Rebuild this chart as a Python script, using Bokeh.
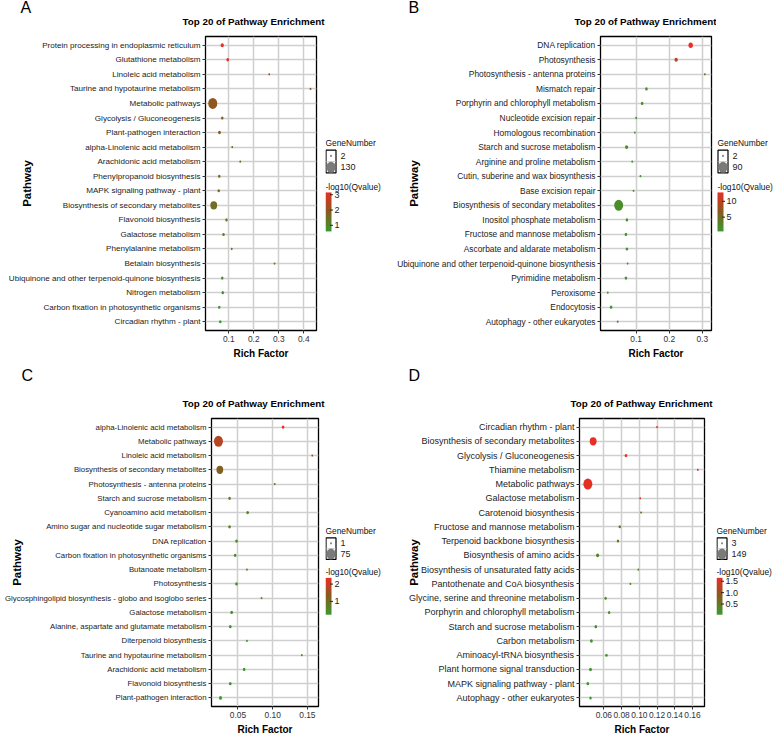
import numpy as np
from bokeh.plotting import figure
from bokeh.models import (Range1d, FactorRange, FixedTicker, ColumnDataSource,
                          LinearColorMapper, Title, NumeralTickFormatter)
from bokeh.layouts import row, column
from bokeh.embed import file_html
from bokeh.resources import INLINE
from bokeh.core.properties import value

FONT = "Liberation Sans"

# ---------------- data ----------------
a_pathways = ["Protein processing in endoplasmic reticulum", "Glutathione metabolism",
              "Linoleic acid metabolism", "Taurine and hypotaurine metabolism", "Metabolic pathways",
              "Glycolysis / Gluconeogenesis", "Plant-pathogen interaction",
              "alpha-Linolenic acid metabolism", "Arachidonic acid metabolism",
              "Phenylpropanoid biosynthesis", "MAPK signaling pathway - plant",
              "Biosynthesis of secondary metabolites", "Flavonoid biosynthesis",
              "Galactose metabolism", "Phenylalanine metabolism", "Betalain biosynthesis",
              "Ubiquinone and other terpenoid-quinone biosynthesis", "Nitrogen metabolism",
              "Carbon fixation in photosynthetic organisms", "Circadian rhythm - plant"]
a_rich = [0.074, 0.096, 0.262, 0.427, 0.036, 0.074, 0.063, 0.114, 0.146, 0.062,
          0.060, 0.040, 0.091, 0.079, 0.112, 0.283, 0.074, 0.076, 0.062, 0.066]
a_genes = [7, 4, 2, 2, 130, 3, 4, 2, 2, 3, 3, 64, 3, 3, 2, 2, 3, 3, 3, 3]
a_qvalue = [3.15, 2.95, 2.3, 2.0, 1.95, 1.9, 1.85, 1.6, 1.5, 1.55,
            1.5, 1.45, 1.25, 1.2, 1.15, 1.0, 0.75, 0.75, 0.65, 0.6]
a_xticks = [0.1, 0.2, 0.3, 0.4]
a_qticks = [1, 2, 3]

b_pathways = ["DNA replication", "Photosynthesis", "Photosynthesis - antenna proteins",
              "Mismatch repair", "Porphyrin and chlorophyll metabolism",
              "Nucleotide excision repair", "Homologous recombination",
              "Starch and sucrose metabolism", "Arginine and proline metabolism",
              "Cutin, suberine and wax biosynthesis", "Base excision repair",
              "Biosynthesis of secondary metabolites", "Inositol phosphate metabolism",
              "Fructose and mannose metabolism", "Ascorbate and aldarate metabolism",
              "Ubiquinone and other terpenoid-quinone biosynthesis", "Pyrimidine metabolism",
              "Peroxisome", "Endocytosis", "Autophagy - other eukaryotes"]
b_rich = [0.265, 0.221, 0.308, 0.131, 0.118, 0.100, 0.096, 0.071, 0.088, 0.113,
          0.092, 0.047, 0.072, 0.069, 0.072, 0.074, 0.069, 0.014, 0.024, 0.044]
b_genes = [13, 6, 2, 3, 3, 2, 2, 5, 2, 2, 2, 90, 3, 3, 3, 2, 3, 2, 3, 2]
b_qvalue = [12.8, 9.1, 5.4, 2.0, 1.8, 1.3, 1.2, 1.5, 1.0, 1.0,
            0.9, 1.7, 0.8, 0.8, 0.8, 0.7, 0.7, 0.5, 0.6, 0.55]
b_xticks = [0.1, 0.2, 0.3]
b_qticks = [5, 10]

c_pathways = ["alpha-Linolenic acid metabolism", "Metabolic pathways", "Linoleic acid metabolism",
              "Biosynthesis of secondary metabolites", "Photosynthesis - antenna proteins",
              "Starch and sucrose metabolism", "Cyanoamino acid metabolism",
              "Amino sugar and nucleotide sugar metabolism", "DNA replication",
              "Carbon fixation in photosynthetic organisms", "Butanoate metabolism",
              "Photosynthesis", "Glycosphingolipid biosynthesis - globo and isoglobo series",
              "Galactose metabolism", "Alanine, aspartate and glutamate metabolism",
              "Diterpenoid biosynthesis", "Taurine and hypotaurine metabolism",
              "Arachidonic acid metabolism", "Flavonoid biosynthesis", "Plant-pathogen interaction"]
c_rich = [0.115, 0.022, 0.157, 0.024, 0.103, 0.038, 0.064, 0.038, 0.048, 0.046,
          0.063, 0.048, 0.084, 0.041, 0.039, 0.063, 0.142, 0.059, 0.039, 0.025]
c_genes = [2, 75, 1, 36, 1, 2, 2, 2, 2, 2, 1, 2, 1, 2, 2, 1, 1, 2, 2, 3]
c_qvalue = [2.36, 1.76, 1.3, 1.19, 0.98, 0.66, 0.62, 0.6, 0.55, 0.55,
            0.5, 0.48, 0.45, 0.42, 0.42, 0.38, 0.35, 0.33, 0.3, 0.23]
c_xticks = [0.05, 0.10, 0.15]
c_qticks = [1, 2]

d_pathways = ["Circadian rhythm - plant", "Biosynthesis of secondary metabolites",
              "Glycolysis / Gluconeogenesis", "Thiamine metabolism", "Metabolic pathways",
              "Galactose metabolism", "Carotenoid biosynthesis", "Fructose and mannose metabolism",
              "Terpenoid backbone biosynthesis", "Biosynthesis of amino acids",
              "Biosynthesis of unsaturated fatty acids", "Pantothenate and CoA biosynthesis",
              "Glycine, serine and threonine metabolism", "Porphyrin and chlorophyll metabolism",
              "Starch and sucrose metabolism", "Carbon metabolism", "Aminoacyl-tRNA biosynthesis",
              "Plant hormone signal transduction", "MAPK signaling pathway - plant",
              "Autophagy - other eukaryotes"]
d_rich = [0.120, 0.048, 0.085, 0.166, 0.042, 0.101, 0.102, 0.078, 0.076, 0.053,
          0.099, 0.090, 0.062, 0.066, 0.051, 0.046, 0.063, 0.045, 0.042, 0.045]
d_genes = [3, 73, 5, 3, 149, 3, 3, 4, 4, 7, 3, 3, 4, 4, 5, 6, 4, 6, 5, 4]
d_qvalue = [1.65, 1.62, 1.6, 1.58, 1.55, 1.5, 0.6, 0.45, 0.42, 0.3,
            0.28, 0.25, 0.22, 0.2, 0.18, 0.15, 0.14, 0.1, 0.07, 0.03]
d_xticks = [0.06, 0.08, 0.10, 0.12, 0.14, 0.16]
d_qticks = [0.5, 1.0, 1.5]

TITLE = "Top 20 of Pathway Enrichment"


# ---------------- helpers ----------------
def make_palette(n=256):
    stops = [(59, 154, 47), (138, 90, 30), (238, 44, 36)]
    out = []
    for i in range(n):
        t = i / (n - 1)
        if t <= 0.5:
            a, b, u = stops[0], stops[1], t / 0.5
        else:
            a, b, u = stops[1], stops[2], (t - 0.5) / 0.5
        c = tuple(int(round(a[k] + (b[k] - a[k]) * u)) for k in range(3))
        out.append("#%02x%02x%02x" % c)
    return out


PAL = make_palette()
DMIN, DMAX = 2.3, 11.0
ASPECT = 0.82
YPAD = 0.1


def diam(genes):
    g = np.asarray(genes, float)
    lo, hi = g.min(), g.max()
    return DMIN + (DMAX - DMIN) * np.sqrt((g - lo) / (hi - lo))


def make_panel(letter, paths, rich, genes, q, xlim, xticks, xfmt, mapper,
               fw, fh, bl, br, bt, bb, yfs, title_start, ylab_standoff, letter_x,
               letter_standoff):
    p = figure(width=fw, height=fh, x_range=Range1d(*xlim),
               y_range=FactorRange(factors=list(reversed(paths)), range_padding=YPAD,
                                   range_padding_units="absolute"),
               output_backend="svg", toolbar_location=None,
               min_border_left=bl, min_border_right=br, min_border_top=bt,
               min_border_bottom=bb)
    p.background_fill_color = "white"
    p.border_fill_color = "white"
    p.outline_line_color = "black"
    p.outline_line_width = 1.3

    # panel letter (outer title)
    p.title.text = letter
    p.title.align = "left"
    p.title.offset = letter_x - bl
    p.title.text_font = FONT
    p.title.text_font_size = "16px"
    p.title.text_font_style = "normal"
    p.title.text_color = "black"
    p.title.standoff = letter_standoff

    # chart title (inner, next to the frame)
    p.add_layout(Title(text=TITLE, align="left", offset=title_start - bl, text_font=FONT,
                       text_font_size="9.8px", text_font_style="bold", text_color="black",
                       standoff=19), "above")

    d = diam(genes)
    src = ColumnDataSource(dict(path=paths, rich=rich, genes=genes, q=q, h=d, w=d * ASPECT))
    p.ellipse(x="rich", y="path", width="w", height="h", width_units="screen",
              height_units="screen", source=src,
              fill_color={"field": "q", "transform": mapper}, line_color=None)

    for g in (p.xgrid, p.ygrid):
        g.grid_line_color = "#cfcfcf"
        g.grid_line_width = 1.5

    xa = p.xaxis[0]
    xa.ticker = FixedTicker(ticks=xticks)
    xa.formatter = NumeralTickFormatter(format=xfmt)
    xa.axis_line_color = None
    xa.minor_tick_line_color = None
    xa.major_tick_in = 0
    xa.major_tick_out = 3
    xa.major_tick_line_color = "#333333"
    xa.major_label_standoff = 2
    xa.major_label_text_font = FONT
    xa.major_label_text_font_size = "8.4px"
    xa.major_label_text_color = "#333333"
    xa.axis_label = "Rich Factor"
    xa.axis_label_text_font = FONT
    xa.axis_label_text_font_size = "10px"
    xa.axis_label_text_font_style = "bold"
    xa.axis_label_text_color = "black"
    xa.axis_label_standoff = 3

    ya = p.yaxis[0]
    ya.axis_line_color = None
    ya.minor_tick_line_color = None
    ya.major_tick_in = 0
    ya.major_tick_out = 3
    ya.major_tick_line_color = "#333333"
    ya.major_label_standoff = 2
    ya.major_label_text_font = FONT
    ya.major_label_text_font_size = yfs
    ya.major_label_text_color = "#222222"
    ya.axis_label = "Pathway"
    ya.axis_label_text_font = FONT
    ya.axis_label_text_font_size = "11.5px"
    ya.axis_label_text_font_style = "bold"
    ya.axis_label_text_color = "black"
    ya.axis_label_standoff = ylab_standoff
    return p


def make_legend(width, height, frame_top, frame_h, genes, q, qticks, qfmt, mapper, x0):
    p = figure(width=width, height=height, x_range=Range1d(0, width),
               y_range=Range1d(0, height), output_backend="svg", toolbar_location=None,
               x_axis_location=None, y_axis_location=None, min_border=0)
    p.grid.visible = False
    p.outline_line_color = None
    p.background_fill_color = "white"
    p.border_fill_color = "white"
    cy = height - (frame_top + frame_h / 2.0)   # frame centre in y-up coords

    def Y(off):  # offset downward from the frame centre
        return cy - off

    tfs = value("8.4px")
    p.text(x=[x0], y=[Y(-52)], text=["GeneNumber"], text_font=value(FONT),
           text_font_size=tfs, text_baseline="middle", text_align="left", text_color="#111111")
    p.rect(x=[x0 + 5.5], y=[Y(-29)], width=[10], height=[28], fill_color="white",
           line_color="black", line_width=1.2)
    p.segment(x0=[x0 + 1], y0=[Y(-29)], x1=[x0 + 10], y1=[Y(-29)], line_color="#cfcfcf",
              line_width=1)
    gmin, gmax = min(genes), max(genes)
    dk = diam([gmin, gmax])
    p.ellipse(x=[x0 + 5.5, x0 + 5.5], y=[Y(-36), Y(-22)], width=list(dk * ASPECT),
              height=list(dk), width_units="screen", height_units="screen",
              fill_color="#7a7a7a", line_color=None)
    p.text(x=[x0 + 15, x0 + 15], y=[Y(-36), Y(-22)], text=[str(gmin), str(gmax)],
           text_font=value(FONT), text_font_size=value("9px"), text_baseline="middle",
           text_align="left", text_color="#222222")
    p.text(x=[x0], y=[Y(2)], text=["-log10(Qvalue)"], text_font=value(FONT),
           text_font_size=tfs, text_baseline="middle", text_align="left", text_color="#111111")
    lo, hi = min(q), max(q)
    bar_bot, bar_h = Y(57), 48.0
    grad = np.linspace(lo, hi, 120).reshape(120, 1)
    p.image(image=[grad], x=x0, y=bar_bot, dw=6, dh=bar_h, color_mapper=mapper)
    ty = [bar_bot + (t - lo) / (hi - lo) * bar_h for t in qticks]
    p.segment(x0=[x0 + 4.5] * len(ty), y0=ty, x1=[x0 + 7.5] * len(ty), y1=ty,
              line_color="#222222", line_width=1)
    p.text(x=[x0 + 9] * len(ty), y=ty, text=[qfmt.format(t) for t in qticks],
           text_font=value(FONT), text_font_size=value("9px"), text_baseline="middle",
           text_align="left", text_color="#222222")
    return p


def mapper_for(q):
    return LinearColorMapper(palette=PAL, low=min(q), high=max(q))


R1H, R1T, R1F = 362, 36, 294
R2H, R2T, R2F = 375, 53, 291
R1B = R1H - R1T - R1F
R2B = R2H - R2T - R2F

mA, mB, mC, mD = (mapper_for(a_qvalue), mapper_for(b_qvalue),
                  mapper_for(c_qvalue), mapper_for(d_qvalue))

fA = make_panel("A", a_pathways, a_rich, a_genes, a_qvalue, (0.007, 0.451), a_xticks, "0.0", mA,
                325, R1H, 205, 9, R1T, R1B, "8.1px", 182, -27, 20, -22)
lA = make_legend(61, R1H, R1T, R1F, a_genes, a_qvalue, a_qticks, "{:d}", mA, 0)
fB = make_panel("B", b_pathways, b_rich, b_genes, b_qvalue, (-0.008, 0.328), b_xticks, "0.0", mB,
                330, R1H, 214, 5, R1T, R1B, "8.4px", 188, -26, 22, -22)
lB = make_legend(60, R1H, R1T, R1F, b_genes, b_qvalue, b_qticks, "{:d}", mB, 1)
fC = make_panel("C", c_pathways, c_rich, c_genes, c_qvalue, (0.012, 0.166), c_xticks, "0.00", mC,
                325, R2H, 211, 7, R2T, R2B, "7.8px", 182, -21, 21, 5)
lC = make_legend(61, R2H, R2T, R2F, c_genes, c_qvalue, c_qticks, "{:d}", mC, 0)
fD = make_panel("D", d_pathways, d_rich, d_genes, d_qvalue, (0.0326, 0.1735), d_xticks, "0.00", mD,
                330, R2H, 193, 12, R2T, R2B, "9px", 184, -14, 22, 5)
lD = make_legend(60, R2H, R2T, R2F, d_genes, d_qvalue, d_qticks, "{:.1f}", mD, 0)

layout = column(row(fA, lA, fB, lB), row(fC, lC, fD, lD))

open("out.html", "w").write(file_html(layout, INLINE))
